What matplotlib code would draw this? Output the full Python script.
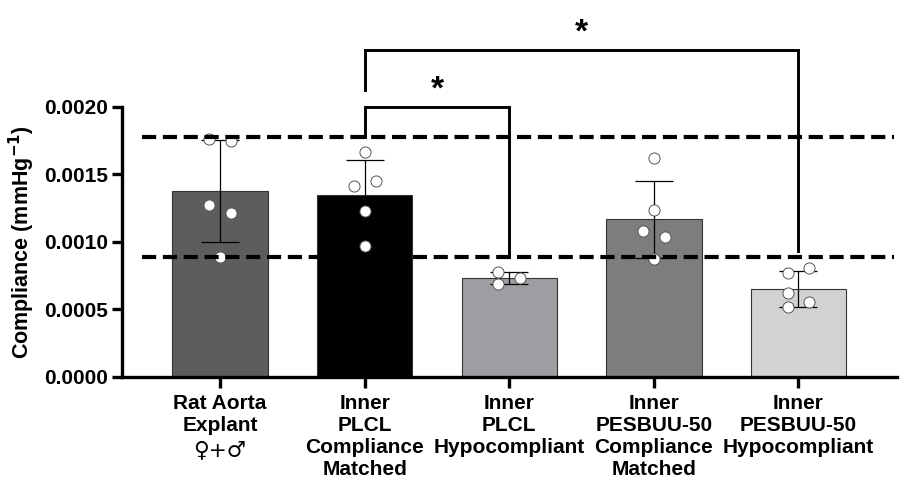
import numpy as np
import matplotlib
matplotlib.use('Agg')
import matplotlib.pyplot as plt

plt.rcParams['font.family'] = ['Liberation Sans', 'DejaVu Sans']
plt.rcParams['font.weight'] = 'bold'

# Gruppen und Werte
groups = ['Rat Aorta\nExplant',
          'Inner\nPLCL\nCompliance\nMatched',
          'Inner\nPLCL\nHypocompliant',
          'Inner\nPESBUU-50\nCompliance\nMatched',
          'Inner\nPESBUU-50\nHypocompliant']
sex_label = '♀+♂'
means = [0.001378, 0.001346, 0.000731, 0.001168, 0.000652]
sds = [0.000380, 0.000261, 0.000044, 0.000284, 0.000132]
bar_colors = ['#5b5d5f', '#000000', '#9c9ea1', '#7b7d7f', '#d1d2d3']

# Einzelpunkte je Gruppe (x-Versatz, Wert)
points = [
    [(-0.076, 0.001765), (0.076, 0.001746), (-0.076, 0.001274), (0.076, 0.001212), (0.0, 0.000886)],
    [(0.0, 0.001667), (-0.076, 0.001415), (0.076, 0.001452), (0.0, 0.001230), (0.0, 0.000973)],
    [(-0.076, 0.000780), (0.076, 0.000731), (-0.076, 0.000687)],
    [(0.0, 0.001622), (0.0, 0.001237), (-0.076, 0.001079), (0.076, 0.001039), (0.0, 0.000874)],
    [(-0.076, 0.000773), (0.076, 0.000810), (-0.076, 0.000625), (0.076, 0.000553), (-0.076, 0.000516)],
]

# Referenzbereich (gestrichelt)
ref_lines = [0.00178, 0.000889]

# Signifikanz-Klammern: (links, rechts, hoehe, links_unten, rechts_unten)
brackets = [(1, 2, 0.0020, 0.00178, 0.000889),
            (1, 4, 0.002422, 0.002126, 0.000933)]

fig = plt.figure(figsize=(9.09, 4.88), dpi=100)
ax = fig.add_axes([0.134, 0.2275, 0.8526, 0.5533])

x = np.arange(len(groups))
ax.bar(x, means, width=0.66, color=bar_colors, edgecolor='#333333', linewidth=0.8, zorder=2)
ax.errorbar(x, means, yerr=sds, fmt='none', ecolor='black', elinewidth=0.9,
            capsize=14, capthick=0.9, zorder=3)

for i, pts in enumerate(points):
    px = [i + dx for dx, _ in pts]
    py = [v for _, v in pts]
    ax.plot(px, py, 'o', markersize=8, markerfacecolor='white',
            markeredgecolor='#555555', markeredgewidth=0.7, zorder=4, clip_on=False)

for yv in ref_lines:
    ax.plot([-0.54, 4.66], [yv, yv], color='black', linewidth=3, linestyle=(0, (3.4, 1.6)),
            zorder=5, clip_on=False)

for x1, x2, h, y1, y2 in brackets:
    ax.plot([x1, x1, x2, x2], [y1, h, h, y2], color='black', linewidth=2.1,
            zorder=6, clip_on=False, solid_joinstyle='miter')
    ax.text((x1 + x2) / 2, h + 0.00001, '*', ha='center', va='bottom', fontsize=24,
            fontweight='bold', clip_on=False)

ax.set_xlim(-0.68, 4.68)
ax.set_ylim(0, 0.0020)
ax.set_yticks([0, 0.0005, 0.0010, 0.0015, 0.0020])
ax.set_yticklabels(['0.0000', '0.0005', '0.0010', '0.0015', '0.0020'])
ax.set_xticks(x)
ax.set_xticklabels(groups, linespacing=1.2)
ax.set_ylabel('Compliance (mmHg$^\\mathbf{-1}$)', fontsize=15.5, fontweight='bold', labelpad=5)

# Geschlechtssymbole groesser, eigene Zeile unter dem ersten Label
ax.annotate(sex_label, xy=(0, 0), xycoords=('data', 'axes fraction'),
            xytext=(0, -53), textcoords='offset points', ha='center', va='center',
            fontsize=15.5, fontweight='normal', family=['DejaVu Sans'])

for side in ['top', 'right']:
    ax.spines[side].set_visible(False)
for side in ['left', 'bottom']:
    ax.spines[side].set_linewidth(2.4)
ax.tick_params(axis='both', width=2.4, labelsize=15)
ax.tick_params(axis='y', length=7, pad=3)
ax.tick_params(axis='x', length=8, pad=4)

plt.savefig('out.png', dpi=100)
